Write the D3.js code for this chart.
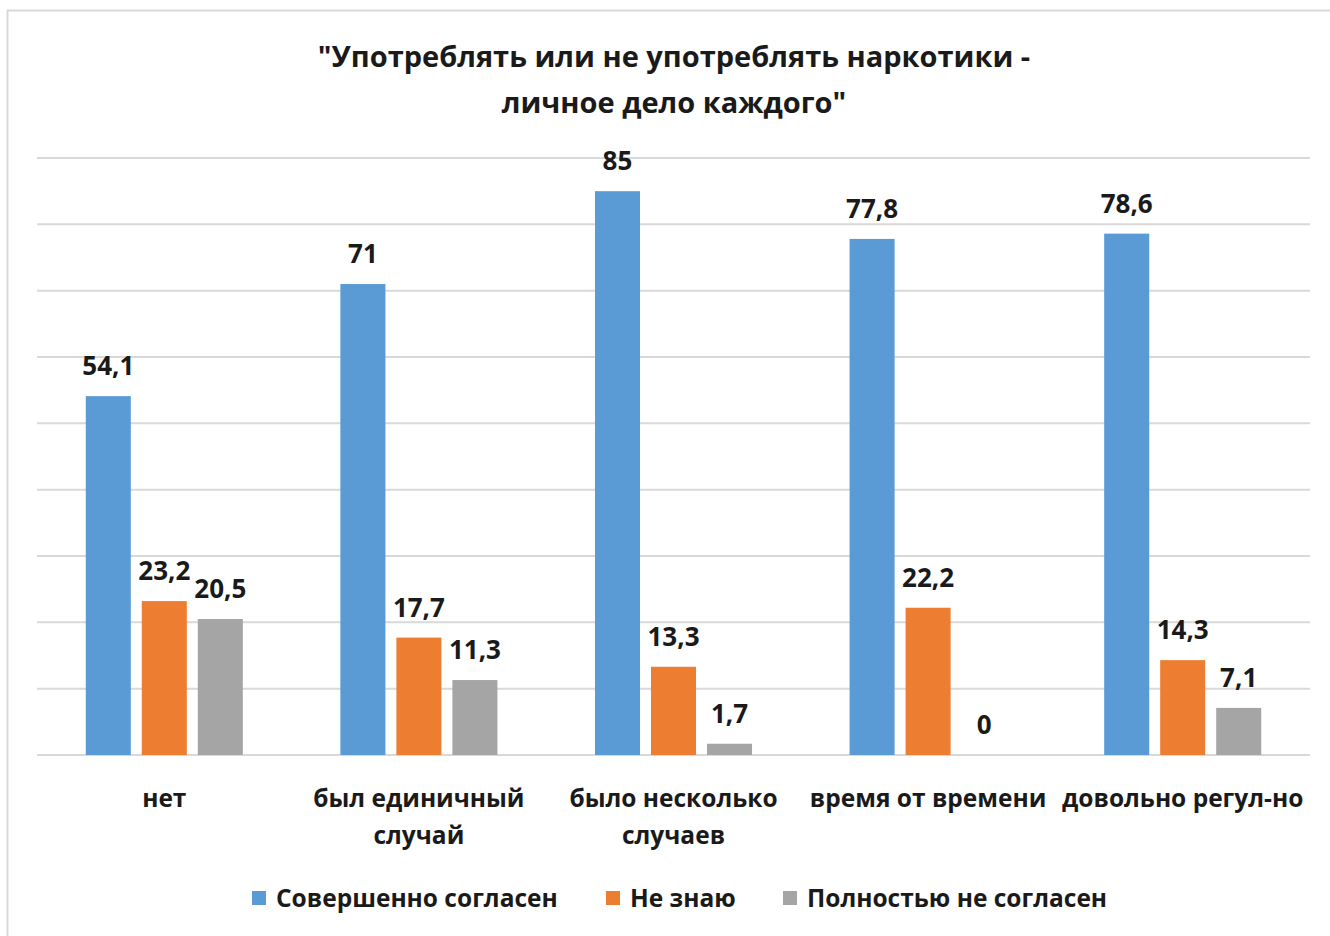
<!DOCTYPE html>
<html>
<head>
<meta charset="utf-8">
<script src="https://cdn.jsdelivr.net/npm/d3@7"></script>
<style>
  body { margin: 0; background: #fff; }
  svg text { font-family: "Open Sans", "Noto Sans", sans-serif; font-weight: bold; fill: #1a1a1a; }
</style>
</head>
<body>
<div id="chart"></div>
<script>
// chart data
var categories = ["нет", "был единичный случай", "было несколько случаев", "время от времени", "довольно регул-но"];
var series_names = ["Совершенно согласен", "Не знаю", "Полностью не согласен"];
var series_colors = ["#5b9bd5", "#ed7d31", "#a5a5a5"];
var agree_values = [54.1, 71, 85, 77.8, 78.6];
var dontknow_values = [23.2, 17.7, 13.3, 22.2, 14.3];
var disagree_values = [20.5, 11.3, 1.7, 0, 7.1];
var category_lines = [["нет"], ["был единичный", "случай"], ["было несколько", "случаев"], ["время от времени"], ["довольно регул-но"]];
var title_lines = ["\"Употреблять или не употреблять наркотики -", "личное дело каждого\""];
var y_ticks = [0, 10, 20, 30, 40, 50, 60, 70, 80, 90];

var all_values = [agree_values, dontknow_values, disagree_values];

var width = 1330, height = 936;
var svg = d3.select("#chart").append("svg")
  .attr("width", width)
  .attr("height", height);

// outer frame
svg.append("rect")
  .attr("x", 7.5).attr("y", 10.5)
  .attr("width", 1340).attr("height", 940)
  .attr("fill", "#fff")
  .attr("stroke", "#d9d9d9")
  .attr("stroke-width", 2);

var left = 37, right = 1310, top_y = 158, bottom_y = 755;

var x0 = d3.scaleBand().domain(categories).range([left, right]).padding(0);
var x1 = d3.scaleBand().domain(series_names).range([0, x0.bandwidth()])
  .paddingInner(0.196).paddingOuter(0.871);
var y = d3.scaleLinear().domain([0, 90]).range([bottom_y, top_y]);

// gridlines
svg.append("g").selectAll("line")
  .data(y_ticks)
  .join("line")
    .attr("x1", left).attr("x2", right)
    .attr("y1", d => y(d)).attr("y2", d => y(d))
    .attr("stroke", "#d9d9d9")
    .attr("stroke-width", 2);

// title
svg.append("g").selectAll("text")
  .data(title_lines)
  .join("text")
    .attr("x", 674)
    .attr("y", (d, i) => 67 + i * 46)
    .attr("text-anchor", "middle")
    .style("font-size", "29px")
    .text(d => d);

// bars
var groups = svg.append("g").selectAll("g")
  .data(categories)
  .join("g")
    .attr("transform", d => "translate(" + x0(d) + ",0)");

groups.each(function(cat, ci) {
  var g = d3.select(this);
  var rows = series_names.map((s, si) => ({series: s, value: all_values[si][ci], color: series_colors[si]}));
  g.selectAll("rect")
    .data(rows)
    .join("rect")
      .attr("x", d => x1(d.series))
      .attr("y", d => y(d.value))
      .attr("width", x1.bandwidth())
      .attr("height", d => bottom_y - y(d.value))
      .attr("fill", d => d.color);
  g.selectAll("text")
    .data(rows)
    .join("text")
      .attr("x", d => x1(d.series) + x1.bandwidth() / 2)
      .attr("y", d => y(d.value) - 21)
      .attr("text-anchor", "middle")
      .style("font-size", "26px")
      .text(d => String(d.value).replace(".", ","));
});

// category labels
var cat_labels = svg.append("g").selectAll("text")
  .data(categories)
  .join("text")
    .attr("x", d => x0(d) + x0.bandwidth() / 2)
    .attr("text-anchor", "middle")
    .style("font-size", "24.5px");
cat_labels.each(function(d, i) {
  d3.select(this).selectAll("tspan")
    .data(category_lines[i])
    .join("tspan")
      .attr("x", x0(d) + x0.bandwidth() / 2)
      .attr("y", (t, j) => 807 + j * 37)
      .text(t => t);
});

// legend
var legend_x = [252, 606, 783];
var legend = svg.append("g").selectAll("g")
  .data(series_names)
  .join("g")
    .attr("transform", (d, i) => "translate(" + legend_x[i] + ",891)");
legend.append("rect")
  .attr("width", 14).attr("height", 14)
  .attr("fill", (d, i) => series_colors[i]);
legend.append("text")
  .attr("x", 24).attr("y", 16)
  .style("font-size", "24.5px")
  .text(d => d);
</script>
</body>
</html>
